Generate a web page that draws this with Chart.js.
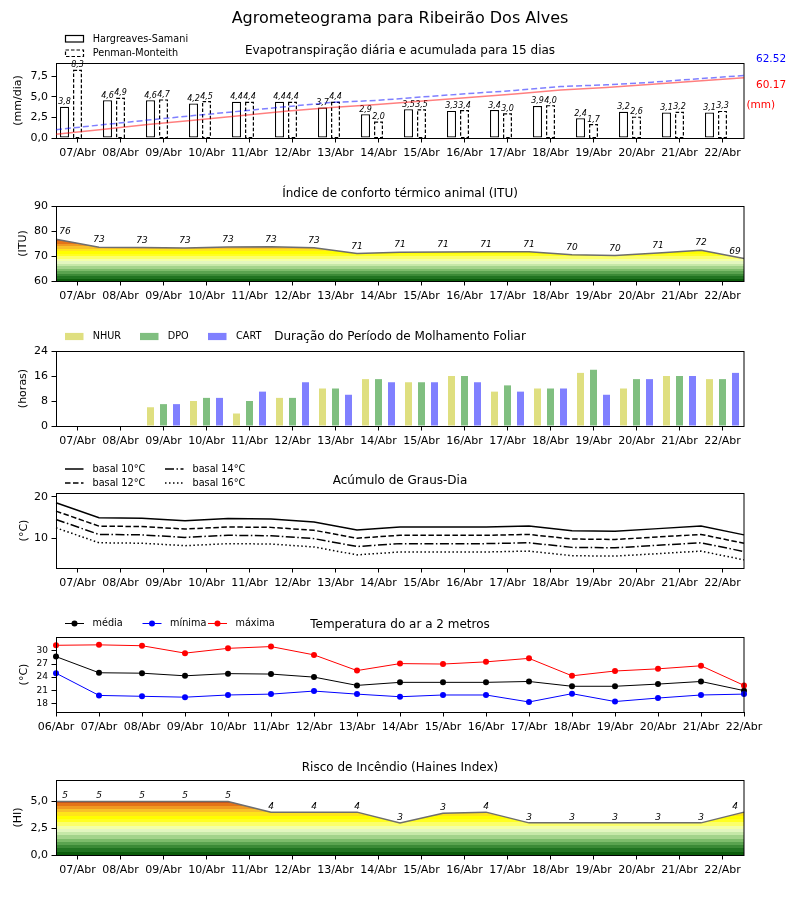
<!DOCTYPE html>
<html>
<head>
<meta charset="utf-8">
<script src="https://cdn.jsdelivr.net/npm/chart.js@4.4.1/dist/chart.umd.min.js"></script>
<style>
  body { margin: 0; background: #fff; width: 800px; height: 900px; position: relative; overflow: hidden; }
  canvas { position: absolute; left: 0; }
</style>
</head>
<body>
<canvas id="c1" width="800" height="168" style="top:0px"></canvas>
<canvas id="c1b" width="800" height="168" style="top:0px"></canvas>
<canvas id="c2" width="800" height="155" style="top:156px"></canvas>
<canvas id="c3" width="800" height="155" style="top:301px"></canvas>
<canvas id="c4" width="800" height="155" style="top:443px"></canvas>
<canvas id="c5" width="800" height="155" style="top:587px"></canvas>
<canvas id="c6" width="800" height="155" style="top:730px"></canvas>
<script>
// dias das previsoes
var dias = ['07/Abr', '08/Abr', '09/Abr', '10/Abr', '11/Abr', '12/Abr', '13/Abr', '14/Abr',
            '15/Abr', '16/Abr', '17/Abr', '18/Abr', '19/Abr', '20/Abr', '21/Abr', '22/Abr'];
var diasT = ['06/Abr', '07/Abr', '08/Abr', '09/Abr', '10/Abr', '11/Abr', '12/Abr', '13/Abr', '14/Abr',
             '15/Abr', '16/Abr', '17/Abr', '18/Abr', '19/Abr', '20/Abr', '21/Abr', '22/Abr'];

// evapotranspiracao (mm/dia) e acumulada (mm)
var etHS = [3.8, 4.6, 4.6, 4.2, 4.4, 4.4, 3.7, 2.9, 3.5, 3.3, 3.4, 3.9, 2.4, 3.2, 3.1, 3.1];
var etPM = [8.3, 4.9, 4.7, 4.5, 4.4, 4.4, 4.4, 2.0, 3.5, 3.4, 3.0, 4.0, 1.7, 2.6, 3.2, 3.3];
var acHS = [3.8, 8.6, 13.4, 17.7, 22.2, 26.7, 30.5, 33.5, 37.1, 40.5, 44.0, 48.0, 50.5, 53.8, 57.0, 60.17];
var acPM = [8.3, 13.2, 17.9, 22.4, 26.8, 31.2, 35.6, 37.6, 41.1, 44.5, 47.5, 51.5, 53.2, 55.8, 59.2, 62.52];

// ITU
var itu = [76.7, 73.5, 73.4, 73.2, 73.6, 73.7, 73.3, 71.0, 71.5, 71.6, 71.7, 71.7, 70.5, 70.2, 71.2, 72.3, 69.0];

// molhamento foliar (horas)
var nhur = [0, 0, 6, 8, 4, 9, 12, 15, 14, 16, 11, 12, 17, 12, 16, 15];
var dpo  = [0, 0, 7, 9, 8, 9, 12, 15, 14, 16, 13, 12, 18, 15, 16, 15];
var cart = [0, 0, 7, 9, 11, 14, 10, 14, 14, 14, 11, 12, 10, 15, 16, 17];

// graus-dia
var gd10 = [18.6, 15.0, 14.9, 14.3, 14.8, 14.7, 14.0, 12.1, 12.8, 12.8, 12.8, 13.0, 11.9, 11.8, 12.4, 13.0, 10.9];
var gd12 = [16.6, 13.0, 12.9, 12.3, 12.8, 12.7, 12.0, 10.1, 10.8, 10.8, 10.8, 11.0, 9.9, 9.8, 10.4, 11.0, 8.9];
var gd14 = [14.6, 11.0, 10.9, 10.3, 10.8, 10.7, 10.0, 8.1, 8.8, 8.8, 8.8, 9.0, 7.9, 7.8, 8.4, 9.0, 6.9];
var gd16 = [12.6, 9.0, 8.9, 8.3, 8.8, 8.7, 8.0, 6.1, 6.8, 6.8, 6.8, 7.0, 5.9, 5.8, 6.4, 7.0, 4.9];

// temperatura do ar
var tMed = [28.7, 25.0, 24.9, 24.3, 24.8, 24.7, 24.0, 22.1, 22.8, 22.8, 22.8, 23.0, 21.9, 21.9, 22.4, 23.0, 20.9];
var tMin = [24.9, 19.8, 19.6, 19.4, 19.9, 20.1, 20.8, 20.1, 19.5, 19.9, 19.9, 18.3, 20.2, 18.4, 19.2, 19.9, 20.1];
var tMax = [31.3, 31.4, 31.2, 29.5, 30.6, 31.0, 29.1, 25.5, 27.1, 27.0, 27.5, 28.3, 24.3, 25.4, 25.9, 26.6, 22.1];

// haines
var haines = [5, 5, 5, 5, 5, 4, 4, 4, 3, 3.9, 4, 3, 3, 3, 3, 3, 4];

// ticks
var ticksET = [0, 2.5, 5, 7.5];
var ticksITU = [60, 70, 80, 90];
var ticksMol = [0, 8, 16, 24];
var ticksGD = [10, 20];
var ticksT = [18, 21, 24, 27, 30];
var ticksHI = [0, 2.5, 5];

var FONT = "'DejaVu Sans', sans-serif";
Chart.defaults.font.family = FONT;
Chart.defaults.color = '#000';
Chart.defaults.animation = false;
Chart.defaults.plugins.legend.display = false;
Chart.defaults.plugins.tooltip.enabled = false;

var cores = ['#0b5d0b', '#217421', '#3b8a36', '#5aa34f', '#7dbc6b', '#a3d38b', '#c6e8a8', '#e3f6c0',
             '#f3ffa8', '#fcff6a', '#ffff22', '#ffff00', '#ffe51a', '#f8c12a', '#f09a22', '#e47318', '#d24e10'];

function virgula(v) { return v.toFixed(1).replace('.', ','); }

function txt(c, s, x, y, font, color, align, base) {
    c.save();
    c.font = font;
    c.fillStyle = color || '#000';
    c.textAlign = align || 'left';
    c.textBaseline = base || 'middle';
    c.fillText(s, x, y);
    c.restore();
}

function yAxis(min, max, ticks, title, titlePad, fmt, size) {
    return {
        min: min, max: max,
        afterBuildTicks: function (s) { s.ticks = ticks.map(function (v) { return { value: v }; }); },
        afterFit: function (s) { s.width = 56; },
        border: { display: false },
        grid: { drawOnChartArea: false, tickLength: 4.5, color: '#000' },
        ticks: { padding: 3.5, color: '#000', font: { size: size || 11 }, callback: fmt || function (v) { return v; } },
        title: { display: true, text: title, color: '#000', font: { size: 11 }, padding: { top: titlePad, bottom: 0 } }
    };
}

function xAxis(labels, offset) {
    return {
        type: 'category', labels: labels, offset: offset,
        afterFit: function (s) { s.height = 30; },
        border: { display: false },
        grid: { offset: false, drawOnChartArea: false, tickLength: 4.5, color: '#000' },
        ticks: { autoSkip: false, maxRotation: 0, minRotation: 0, padding: 4.5, color: '#000', font: { size: 11 } }
    };
}

function hidden(labels) {
    return { type: 'category', labels: labels, offset: false, display: false };
}

function bandas(v0, v1) {
    return function (ctx) {
        var ch = ctx.chart;
        if (!ch.chartArea) return null;
        var y = ch.scales.y;
        var g = ch.ctx.createLinearGradient(0, y.getPixelForValue(v0), 0, y.getPixelForValue(v1));
        var n = cores.length;
        cores.forEach(function (c, i) {
            g.addColorStop(i / n, c);
            g.addColorStop((i + 1) / n - 0.0001, c);
        });
        return g;
    };
}

// moldura do grafico + titulo
function moldura(titulo, dy) {
    return {
        id: 'moldura',
        afterDraw: function (chart) {
            var a = chart.chartArea, c = chart.ctx;
            c.save();
            c.strokeStyle = '#000';
            c.lineWidth = 1;
            c.strokeRect(a.left + 0.5, a.top + 0.5, a.right - a.left - 0.5, a.bottom - a.top);
            c.restore();
            txt(c, titulo, 400, a.top - dy, '12px ' + FONT, '#000', 'center', 'alphabetic');
        }
    };
}

// rotulos italicos sobre a linha
function rotulos(dados, off) {
    return {
        id: 'rotulos',
        afterDatasetsDraw: function (chart) {
            var m = chart.getDatasetMeta(0), c = chart.ctx, n = m.data.length;
            m.data.forEach(function (p, i) {
                var x = p.x;
                if (i === 0) x += 9;
                if (i === n - 1) x -= 9;
                txt(c, String(Math.trunc(dados[i])), x, p.y - off, 'italic 9px ' + FONT, '#000', 'center', 'alphabetic');
            });
        }
    };
}

var LEG = '9.7px ' + FONT;

// ---- 1: evapotranspiracao diaria (barras)
new Chart(document.getElementById('c1'), {
    type: 'bar',
    data: {
        labels: dias,
        datasets: [
            { data: etHS, backgroundColor: '#fff', borderColor: '#000', borderWidth: 1.2, borderSkipped: false },
            { data: etPM, backgroundColor: '#fff', borderWidth: 0 },
            { data: [] }
        ]
    },
    options: {
        responsive: false,
        layout: { padding: { top: 63, right: 56, left: 0, bottom: 0 } },
        categoryPercentage: 0.907,
        barPercentage: 0.69,
        scales: {
            x: xAxis(dias, true),
            y: yAxis(0, 9.13, ticksET, '(mm/dia)', 12, virgula)
        }
    },
    plugins: [moldura('Evapotranspiração diária e acumulada para 15 dias', 9), {
        id: 'et',
        afterDatasetsDraw: function (chart) {
            var c = chart.ctx;
            c.save();
            c.setLineDash([3.5, 2]);
            c.lineWidth = 1.2;
            c.strokeStyle = '#000';
            chart.getDatasetMeta(1).data.forEach(function (b) {
                c.strokeRect(b.x - b.width / 2 + 0.6, b.y + 0.6, b.width - 1.2, b.base - b.y - 0.6);
            });
            c.restore();
            [0, 1].forEach(function (di) {
                var vals = chart.data.datasets[di].data;
                chart.getDatasetMeta(di).data.forEach(function (b, i) {
                    txt(c, virgula(vals[i]), b.x, b.y - 2.5, 'italic 8px ' + FONT, '#000', 'center', 'alphabetic');
                });
            });
        },
        afterDraw: function (chart) {
            var c = chart.ctx;
            txt(c, 'Agrometeograma para Ribeirão Dos Alves', 400, 23, '16px ' + FONT, '#000', 'center', 'alphabetic');
            // legenda
            c.save();
            c.strokeStyle = '#000';
            c.lineWidth = 1.2;
            c.strokeRect(65.5, 35.5, 18, 6.5);
            c.setLineDash([3.5, 2]);
            c.strokeRect(65.5, 50, 18, 6.5);
            c.restore();
            txt(c, 'Hargreaves-Samani', 92.7, 39, LEG);
            txt(c, 'Penman-Monteith', 92.7, 53.5, LEG);
            // totais acumulados
            txt(c, acPM[acPM.length - 1].toFixed(2), 756, 59.5, '10.5px ' + FONT, '#0000ff');
            txt(c, acHS[acHS.length - 1].toFixed(2), 756, 85.5, '10.5px ' + FONT, '#ff0000');
            txt(c, '(mm)', 746.5, 105.5, '10.5px ' + FONT, '#ff0000');
        }
    }]
});

// ---- 1b: acumulada (eixo gemeo, por cima das barras)
new Chart(document.getElementById('c1b'), {
    type: 'line',
    data: {
        labels: dias,
        datasets: [
            { data: acHS, borderColor: 'rgba(255,0,0,0.5)', borderWidth: 1.5, pointRadius: 0 },
            { data: acPM, borderColor: 'rgba(0,0,255,0.5)', borderDash: [6, 3], borderWidth: 1.5, pointRadius: 0 }
        ]
    },
    options: {
        responsive: false,
        layout: { padding: { top: 63, right: 56, left: 56, bottom: 30 } },
        scales: {
            x: { type: 'category', offset: false, display: false },
            y: { min: 0, max: 75.02, display: false }
        }
    }
});

// ---- 2: ITU
new Chart(document.getElementById('c2'), {
    type: 'line',
    data: {
        datasets: [{ data: itu, xAxisID: 'xp', borderColor: '#6e6e6e', borderWidth: 1.5, pointRadius: 0, fill: 'start', backgroundColor: bandas(60, 77) }]
    },
    options: {
        responsive: false,
        layout: { padding: { top: 50, right: 56, left: 0, bottom: 0 } },
        scales: {
            x: xAxis(dias, true),
            xp: hidden(diasT),
            y: yAxis(60, 90, ticksITU, '(ITU)', 17)
        }
    },
    plugins: [moldura('Índice de conforto térmico animal (ITU)', 9), rotulos(itu, 5)]
});

// ---- 3: molhamento foliar
new Chart(document.getElementById('c3'), {
    type: 'bar',
    data: {
        labels: dias,
        datasets: [
            { data: nhur, backgroundColor: 'rgb(223,223,128)' },
            { data: dpo, backgroundColor: 'rgb(128,191,128)' },
            { data: cart, backgroundColor: 'rgb(128,128,255)' }
        ]
    },
    options: {
        responsive: false,
        layout: { padding: { top: 50, right: 56, left: 0, bottom: 0 } },
        categoryPercentage: 0.907,
        barPercentage: 0.54,
        scales: {
            x: xAxis(dias, true),
            y: yAxis(0, 24, ticksMol, '(horas)', 17)
        }
    },
    plugins: [moldura('Duração do Período de Molhamento Foliar', 11), {
        id: 'leg3',
        afterDraw: function (chart) {
            var c = chart.ctx, y = chart.chartArea.top - 14.5;
            [['NHUR', 'rgb(223,223,128)', 65, 92.7], ['DPO', 'rgb(128,191,128)', 140, 167.7], ['CART', 'rgb(128,128,255)', 208, 236]].forEach(function (l) {
                c.fillStyle = l[1];
                c.fillRect(l[2], y - 3.6, 18.5, 7.2);
                txt(c, l[0], l[3], y, LEG);
            });
        }
    }]
});

// ---- 4: graus-dia
function linhaGD(d, dash) {
    return { data: d, xAxisID: 'xp', borderColor: '#000', borderWidth: 1.5, borderDash: dash, pointRadius: 0 };
}
new Chart(document.getElementById('c4'), {
    type: 'line',
    data: {
        datasets: [linhaGD(gd10, []), linhaGD(gd12, [5.5, 2.5]), linhaGD(gd14, [9, 2.5, 1.5, 2.5]), linhaGD(gd16, [1.5, 2.5])]
    },
    options: {
        responsive: false,
        layout: { padding: { top: 50, right: 56, left: 0, bottom: 0 } },
        scales: {
            x: xAxis(dias, true),
            xp: hidden(diasT),
            y: yAxis(2.95, 20.95, ticksGD, '(°C)', 18)
        }
    },
    plugins: [moldura('Acúmulo de Graus-Dia', 9), {
        id: 'leg4',
        afterDraw: function (chart) {
            var c = chart.ctx, t = chart.chartArea.top;
            [['basal 10°C', [], 65, t - 24], ['basal 12°C', [5.5, 2.5], 65, t - 10],
             ['basal 14°C', [9, 2.5, 1.5, 2.5], 165, t - 24], ['basal 16°C', [1.5, 2.5], 165, t - 10]].forEach(function (l) {
                c.save();
                c.strokeStyle = '#000';
                c.lineWidth = 1.5;
                c.setLineDash(l[1]);
                c.beginPath();
                c.moveTo(l[2], l[3]);
                c.lineTo(l[2] + 18.5, l[3]);
                c.stroke();
                c.restore();
                txt(c, l[0], l[2] + 27.5, l[3], LEG);
            });
        }
    }]
});

// ---- 5: temperatura
function linhaT(d, cor, ordem) {
    return { data: d, borderColor: cor, backgroundColor: cor, borderWidth: 1, pointRadius: 3, pointBorderWidth: 0, pointBackgroundColor: cor, order: ordem };
}
new Chart(document.getElementById('c5'), {
    type: 'line',
    data: {
        labels: diasT,
        datasets: [linhaT(tMed, '#000', 3), linhaT(tMin, '#0000ff', 2), linhaT(tMax, '#ff0000', 1)]
    },
    options: {
        responsive: false,
        clip: false,
        layout: { padding: { top: 50, right: 56, left: 0, bottom: 0 } },
        scales: {
            x: xAxis(diasT, false),
            y: yAxis(16.0, 33.2, ticksT, '(°C)', 18, null, 9)
        }
    },
    plugins: [moldura('Temperatura do ar a 2 metros', 9), {
        id: 'leg5',
        afterDraw: function (chart) {
            var c = chart.ctx, y = chart.chartArea.top - 13.5;
            [['média', '#000', 65], ['mínima', '#0000ff', 142.5], ['máxima', '#ff0000', 208]].forEach(function (l) {
                c.save();
                c.strokeStyle = l[1];
                c.fillStyle = l[1];
                c.lineWidth = 1;
                c.beginPath();
                c.moveTo(l[2], y);
                c.lineTo(l[2] + 19, y);
                c.stroke();
                c.beginPath();
                c.arc(l[2] + 9.5, y, 3, 0, Math.PI * 2);
                c.fill();
                c.restore();
                txt(c, l[0], l[2] + 27.5, y, LEG);
            });
        }
    }]
});

// ---- 6: haines
new Chart(document.getElementById('c6'), {
    type: 'line',
    data: {
        datasets: [{ data: haines, xAxisID: 'xp', borderColor: '#6e6e6e', borderWidth: 1.5, pointRadius: 0, fill: 'start', backgroundColor: bandas(0, 5.2) }]
    },
    options: {
        responsive: false,
        layout: { padding: { top: 50, right: 56, left: 0, bottom: 0 } },
        scales: {
            x: xAxis(dias, true),
            xp: hidden(diasT),
            y: yAxis(0, 7, ticksHI, '(HI)', 12, virgula)
        }
    },
    plugins: [moldura('Risco de Incêndio (Haines Index)', 9), rotulos(haines, 3)]
});
</script>
</body>
</html>
